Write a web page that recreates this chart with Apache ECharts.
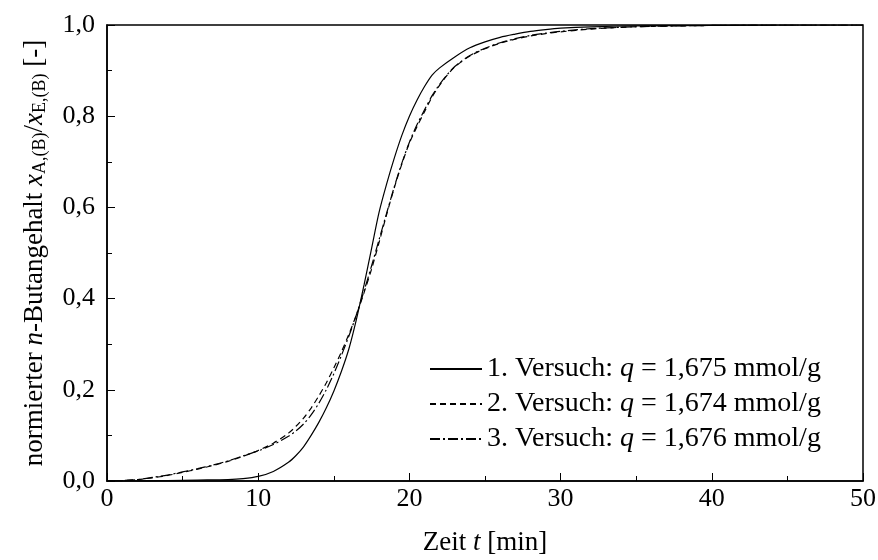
<!DOCTYPE html>
<html>
<head>
<meta charset="utf-8">
<script src="https://cdn.jsdelivr.net/npm/echarts@6/dist/echarts.min.js"></script>
<style>html,body{margin:0;padding:0;background:#fff}#c{width:878px;height:560px}</style>
</head>
<body>
<div id="c"></div>
<script>
// Versuch 1 (solid)
const t1 = [0, 2, 4, 6, 8, 9, 10, 11, 12, 12.5, 13, 13.5, 14, 14.5, 15, 15.5, 16, 16.5, 17, 17.5, 18, 18.5, 19, 19.5, 20, 20.5, 21, 21.5, 22, 23, 24, 25, 26, 27, 28, 29, 30, 32, 35, 40, 45, 50];
const y1 = [0, 0, 0.001, 0.002, 0.003, 0.005, 0.010, 0.021, 0.041, 0.056, 0.075, 0.1, 0.128, 0.16, 0.197, 0.24, 0.29, 0.355, 0.43, 0.51, 0.59, 0.652, 0.708, 0.758, 0.80, 0.835, 0.865, 0.89, 0.906, 0.93, 0.95, 0.963, 0.973, 0.98, 0.986, 0.99, 0.993, 0.996, 0.998, 0.999, 1.0, 1.0];
// Versuch 2 (dashed)
const t2 = [0, 1, 2, 3, 4, 5, 6, 7, 8, 9, 10, 11, 12, 12.5, 13, 13.5, 14, 14.5, 15, 15.5, 16, 16.5, 17, 17.5, 18, 18.5, 19, 19.5, 20, 20.5, 21, 21.5, 22, 22.5, 23, 24, 25, 26, 27, 28, 29, 30, 32, 34, 36, 40, 45, 50];
const y2 = [0, 0.001, 0.003, 0.007, 0.012, 0.019, 0.026, 0.034, 0.043, 0.054, 0.067, 0.083, 0.105, 0.12, 0.138, 0.16, 0.186, 0.215, 0.248, 0.283, 0.322, 0.365, 0.413, 0.465, 0.524, 0.585, 0.643, 0.695, 0.741, 0.777, 0.81, 0.842, 0.868, 0.89, 0.908, 0.932, 0.948, 0.96, 0.969, 0.976, 0.981, 0.985, 0.991, 0.995, 0.997, 0.999, 1.0, 1.0];
// Versuch 3 (dash-dot)
const t3 = [0, 1, 2, 3, 4, 5, 6, 7, 8, 9, 10, 11, 12, 12.5, 13, 13.5, 14, 14.5, 15, 15.5, 16, 16.5, 17, 17.5, 18, 18.5, 19, 19.5, 20, 20.5, 21, 21.5, 22, 22.5, 23, 24, 25, 26, 27, 28, 29, 30, 32, 34, 36, 40, 45, 50];
const y3 = [0, 0.001, 0.003, 0.008, 0.013, 0.02, 0.027, 0.035, 0.044, 0.055, 0.066, 0.08, 0.098, 0.11, 0.125, 0.145, 0.17, 0.2, 0.235, 0.275, 0.318, 0.365, 0.417, 0.472, 0.53, 0.588, 0.645, 0.697, 0.743, 0.781, 0.814, 0.845, 0.87, 0.891, 0.909, 0.933, 0.949, 0.961, 0.97, 0.977, 0.982, 0.986, 0.992, 0.995, 0.997, 0.999, 1.0, 1.0];
const names = ['{r|1. Versuch: }{i|q}{r| = 1,675 mmol/g}', '{r|2. Versuch: }{i|q}{r| = 1,674 mmol/g}', '{r|3. Versuch: }{i|q}{r| = 1,676 mmol/g}'];
const xTicks = [0, 10, 20, 30, 40, 50];
const yTicks = ['0,0', '0,2', '0,4', '0,6', '0,8', '1,0'];

const zip = (a, b) => a.map((v, i) => [v, b[i]]);
const FONT = 'Liberation Serif';
const FS = 27;
const rich = {
  r: {fontFamily: FONT, fontSize: FS, color: '#000'},
  i: {fontFamily: FONT, fontSize: FS, fontStyle: 'italic', color: '#000'},
  sub: {fontFamily: FONT, fontSize: 18, color: '#000', padding: [10, 0, 0, 0]}
};
const legRich = {
  r: {fontFamily: FONT, fontSize: 28, color: '#000'},
  i: {fontFamily: FONT, fontSize: 28, fontStyle: 'italic', color: '#000'}
};
const chart = echarts.init(document.getElementById('c'), null, {renderer: 'canvas'});
const mk = (name, t, y, type) => ({
  name, type: 'line', data: zip(t, y), symbol: 'none', smooth: 0.3,
  lineStyle: {color: '#000', width: 1.2, type},
  itemStyle: {color: '#000'}, animation: false
});
chart.setOption({
  animation: false,
  backgroundColor: '#fff',
  grid: {left: 107, right: 15, top: 25, bottom: 79, outerBoundsMode: 'none', containLabel: false, show: true, borderColor: '#000', borderWidth: 1.5, backgroundColor: 'transparent'},
  xAxis: {
    type: 'value', min: 0, max: 50, interval: 10,
    name: '{r|Zeit }{i|t}{r| [min]}', nameLocation: 'middle', nameGap: 48,
    nameTextStyle: {fontFamily: FONT, fontSize: FS, color: '#000', rich},
    axisLine: {lineStyle: {color: '#000', width: 1.5}},
    axisTick: {inside: true, length: 8, lineStyle: {color: '#000'}},
    minorTick: {show: true, splitNumber: 2, length: 5, lineStyle: {color: '#000'}},
    axisLabel: {fontFamily: FONT, fontSize: 26, color: '#000', margin: 5, formatter: v => xTicks.includes(v) ? String(v) : ''},
    splitLine: {show: false}
  },
  yAxis: {
    type: 'value', min: 0, max: 1, interval: 0.2,
    name: '{r|normierter }{i|n}{r|-Butangehalt }{i|x}{sub|A,(B)}{r|/}{i|x}{sub|E,(B)}{r| [-]}', nameLocation: 'middle', nameGap: 58, nameRotate: 90,
    nameTextStyle: {fontFamily: FONT, fontSize: FS, color: '#000', rich},
    axisLine: {lineStyle: {color: '#000', width: 1.5}},
    axisTick: {inside: true, length: 8, lineStyle: {color: '#000'}},
    minorTick: {show: true, splitNumber: 2, length: 5, lineStyle: {color: '#000'}},
    axisLabel: {fontFamily: FONT, fontSize: 26, color: '#000', margin: 12, formatter: v => yTicks[Math.round(v * 5)] ?? ''},
    splitLine: {show: false}
  },
  legend: {
    orient: 'vertical', left: 424, top: 350, itemWidth: 52, itemHeight: 14, itemGap: 7,
    data: names,
    itemStyle: {color: 'transparent', borderWidth: 0, opacity: 0},
    textStyle: {fontFamily: FONT, fontSize: 28, color: '#000', rich: legRich}
  },
  series: [
    mk(names[0], t1, y1, 'solid'),
    mk(names[1], t2, y2, [6, 4]),
    mk(names[2], t3, y3, [10, 3, 2, 3])
  ]
});
</script>
</body>
</html>
